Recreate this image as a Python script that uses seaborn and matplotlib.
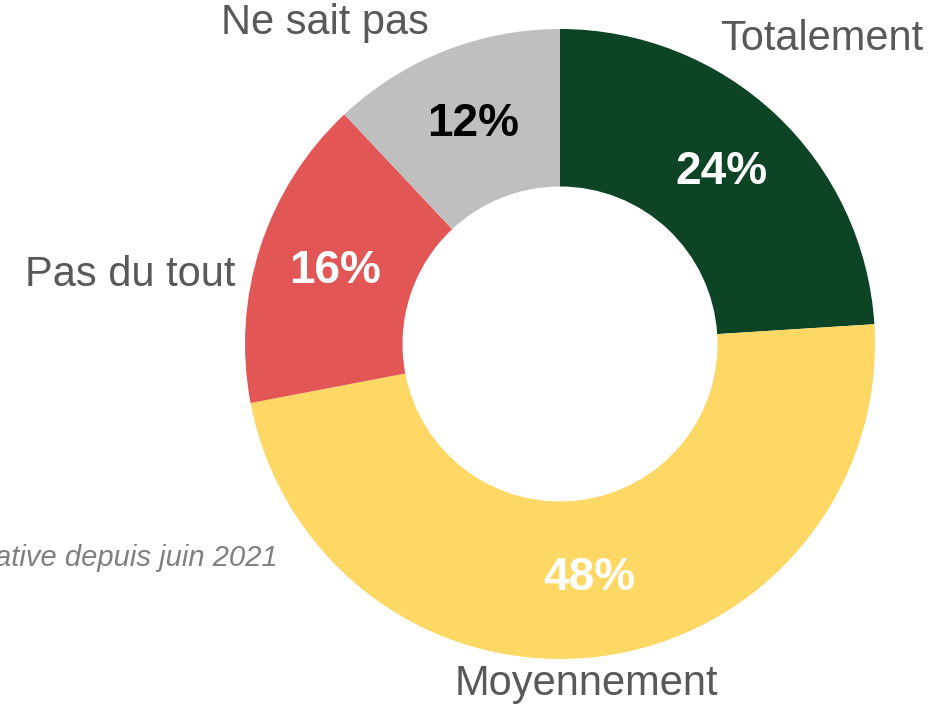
import matplotlib.pyplot as plt
import seaborn as sns

categories = ["Totalement", "Moyennement", "Pas du tout", "Ne sait pas"]
values = [24, 48, 16, 12]
colors = ["#0c4425", "#fdd865", "#e35656", "#bfbfbf"]
pct_colors = ["white", "white", "white", "black"]
note = "ative depuis juin 2021"

sns.set_style("white")
plt.rcParams['font.family'] = ['Liberation Sans', 'DejaVu Sans']

W, H = 940, 707
fig = plt.figure(figsize=(W / 100, H / 100), dpi=100)
ax = fig.add_axes([0, 0, 1, 1])

cx, cy, r = 560, H - 344, 315
wedges, texts, autotexts = ax.pie(
    values, colors=colors, startangle=90, counterclock=False,
    radius=r, center=(cx, cy), wedgeprops=dict(width=r * 0.5, linewidth=0),
    autopct=lambda p: f"{p:.0f}%", pctdistance=0.75,
    textprops=dict(fontsize=33, fontweight='bold'))
for t, c in zip(autotexts, pct_colors):
    t.set_color(c)

# category labels placed around the ring
label_pos = {
    "Totalement": (822, 39),
    "Moyennement": (586, 684),
    "Pas du tout": (130, 275),
    "Ne sait pas": (325, 23),
}
for name in categories:
    x, y = label_pos[name]
    ax.text(x, H - y, name, ha='center', va='center', fontsize=30, color="#595959")

ax.text(278, H - 558, note, ha='right', va='center', fontsize=21,
        style='italic', color="#808080")

ax.set_xlim(0, W)
ax.set_ylim(0, H)
ax.set_aspect('equal')
ax.axis('off')

fig.savefig("out.png", dpi=100)
